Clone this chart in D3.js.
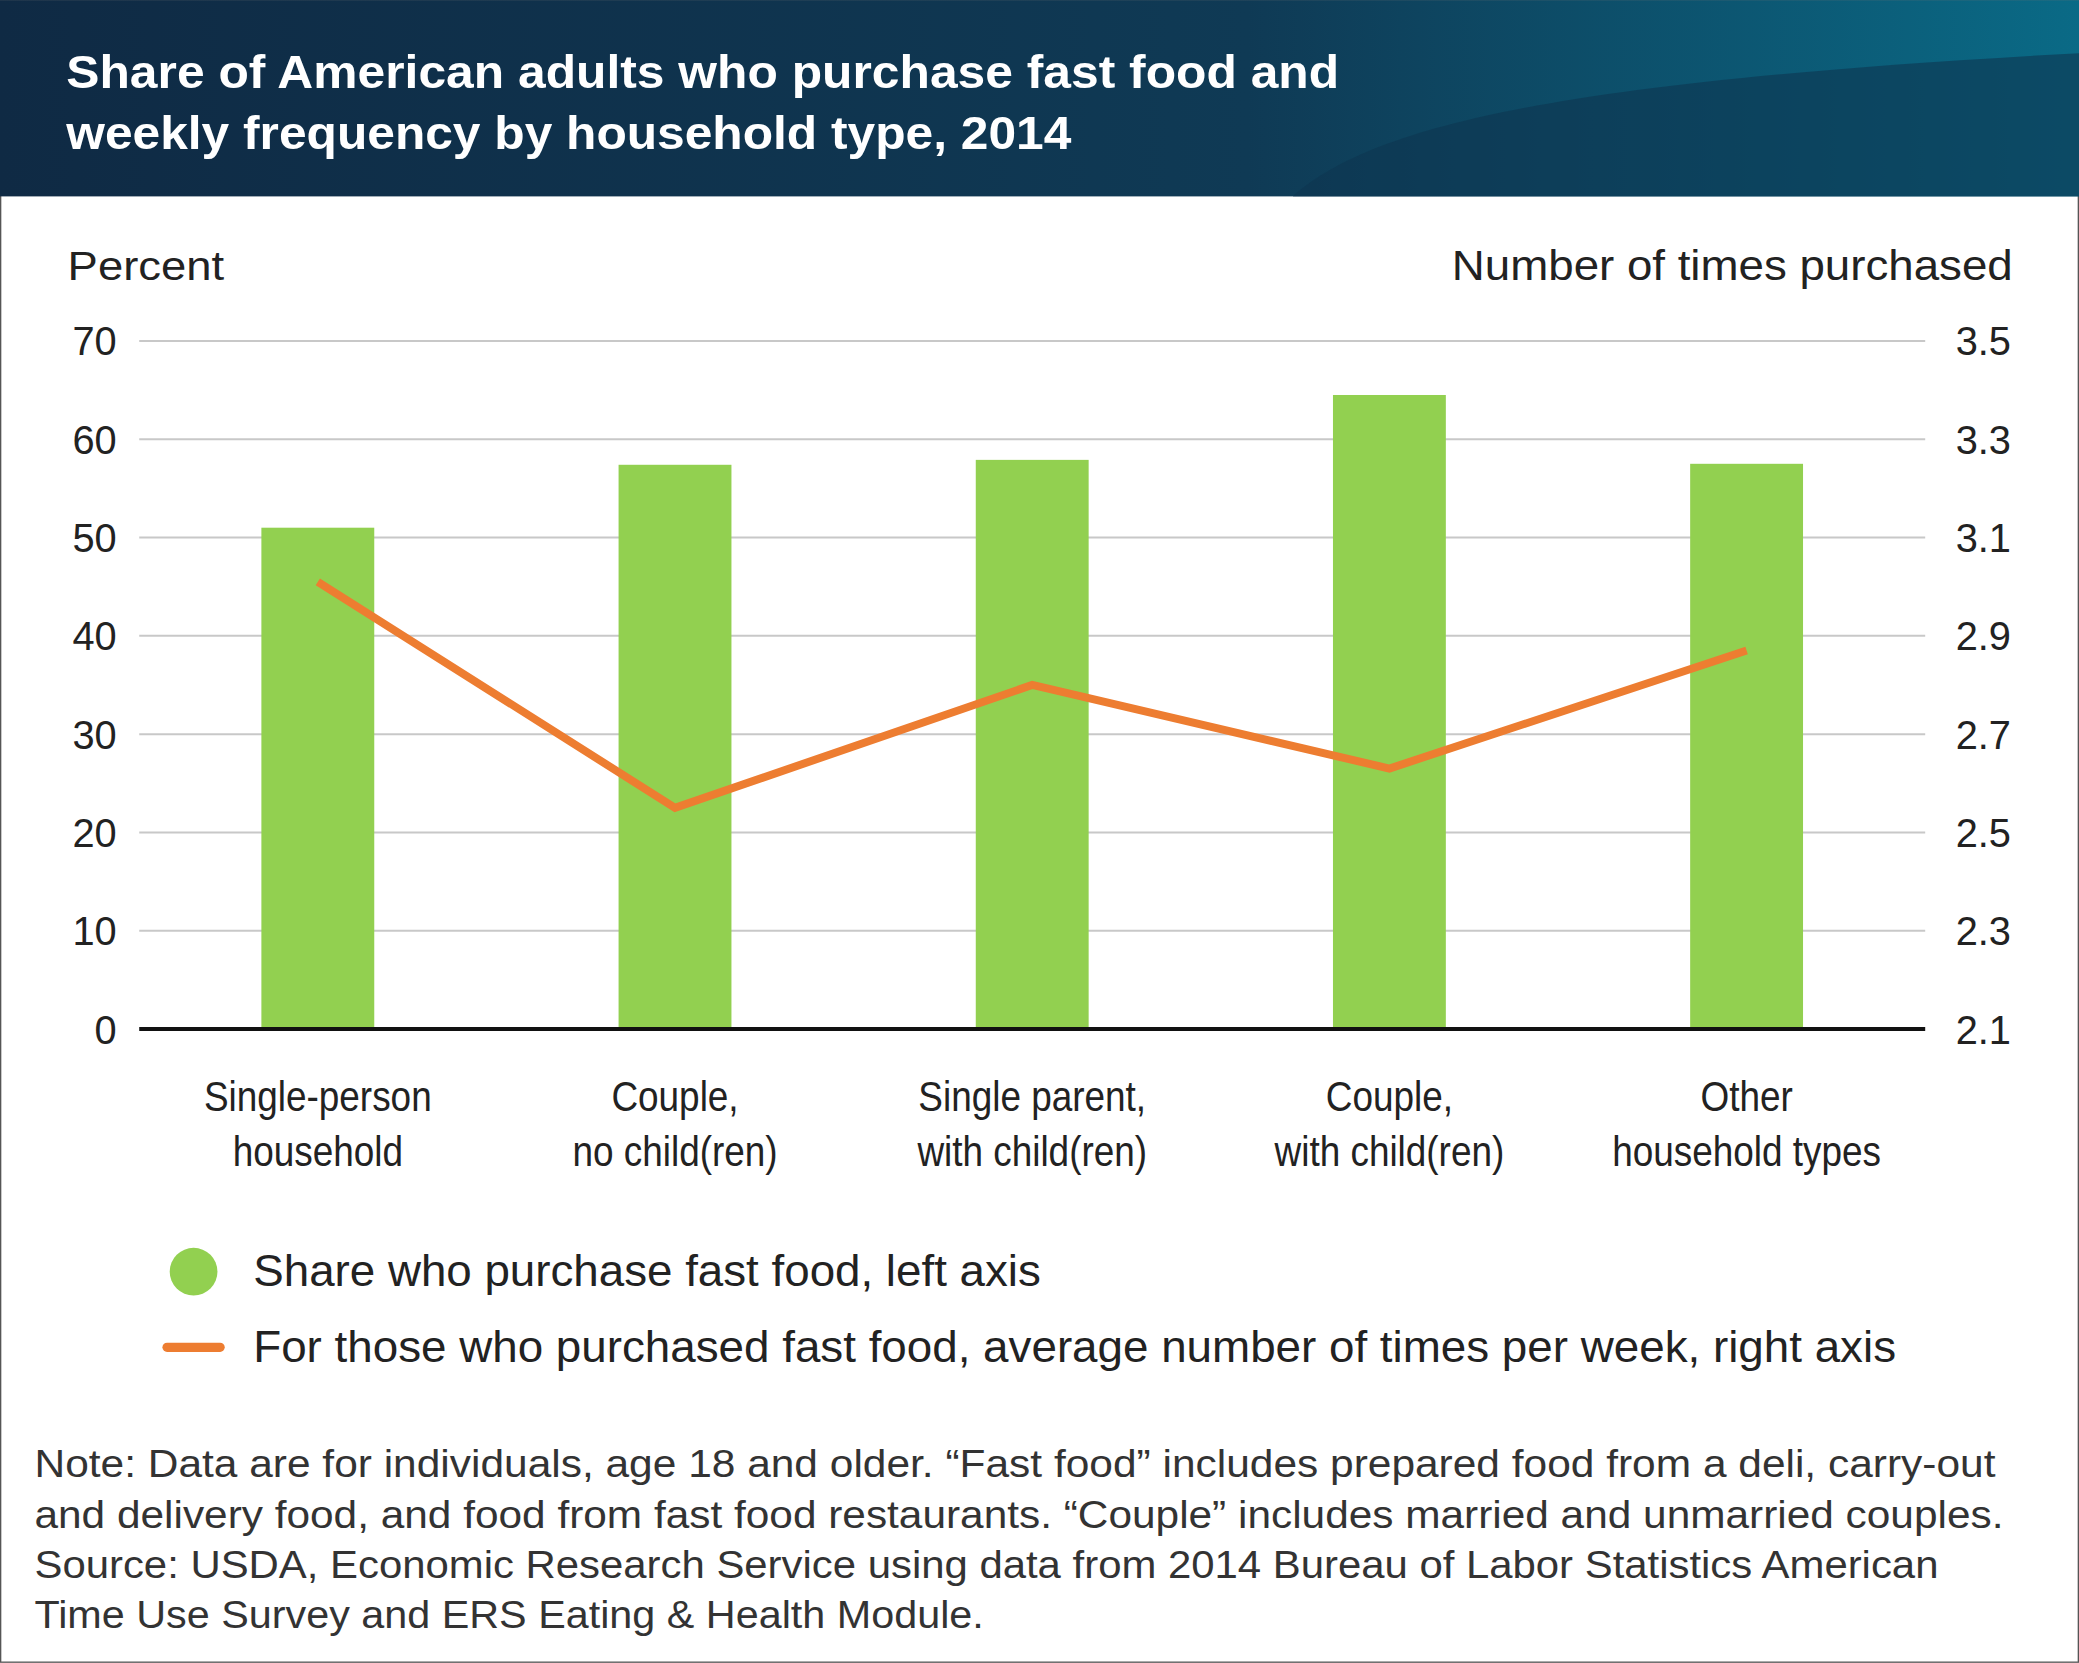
<!DOCTYPE html>
<html><head><meta charset="utf-8">
<script src="https://cdn.jsdelivr.net/npm/d3@7"></script>
<style>body{margin:0;background:#fff}svg{display:block}</style>
</head><body>
<script>
const categories = [["Single-person","household"],["Couple,","no child(ren)"],["Single parent,","with child(ren)"],["Couple,","with child(ren)"],["Other","household types"]];
const shareValues = [51.0, 57.4, 57.9, 64.5, 57.5];
const freqValues = [3.01, 2.55, 2.80, 2.63, 2.87];
const leftTicks = [0,10,20,30,40,50,60,70];
const rightTicks = [2.1,2.3,2.5,2.7,2.9,3.1,3.3,3.5];
const title = ["Share of American adults who purchase fast food and","weekly frequency by household type, 2014"];
const legendLabels = ["Share who purchase fast food, left axis","For those who purchased fast food, average number of times per week, right axis"];
const notes = ["Note: Data are for individuals, age 18 and older. \u201cFast food\u201d includes prepared food from a deli, carry-out","and delivery food, and food from fast food restaurants. \u201cCouple\u201d includes married and unmarried couples.","Source: USDA, Economic Research Service using data from 2014 Bureau of Labor Statistics American","Time Use Survey and ERS Eating & Health Module."];

const W=1568,H=1254,font="'Liberation Sans',Arial,sans-serif";
const svg=d3.select("body").append("svg").attr("width",2079).attr("height",1663).attr("viewBox",`0 0 ${W} ${H}`);
const defs=svg.append("defs");
const g=defs.append("linearGradient").attr("id","hg");
g.append("stop").attr("offset","0").attr("stop-color","#0f2a44");
g.append("stop").attr("offset","0.6").attr("stop-color","#0f3a55");
g.append("stop").attr("offset","1").attr("stop-color","#0a6a86");
svg.append("rect").attr("x",0.5).attr("y",0.5).attr("width",W-1).attr("height",H-1).attr("fill","#fff").attr("stroke","#555");
svg.append("rect").attr("width",W).attr("height",148).attr("fill","url(#hg)");
svg.append("path").attr("d","M975,148 C1040,90 1200,60 1568,40 L1568,148 Z").attr("fill","#0d3550").attr("opacity",0.6);

function fit(sel,widths){sel.each(function(d,i){const n=this,w=widths[i];const bw=n.getComputedTextLength();if(bw>0)n.setAttribute("textLength",w),n.setAttribute("lengthAdjust","spacingAndGlyphs");});}
svg.selectAll(".t").data(title).join("text").attr("x",50).attr("y",(d,i)=>66+i*46).attr("fill","#fff").attr("font-family",font).attr("font-weight","bold").attr("font-size",35).text(d=>d).call(fit,[960,758]);

const x=d3.scaleBand().domain(d3.range(5)).range([105,1452]).paddingInner(0.684).paddingOuter(0.342);
const yL=d3.scaleLinear().domain([0,70]).range([776,257]);
const yR=d3.scaleLinear().domain([2.1,3.5]).range([776,257]);

svg.append("g").selectAll("line").data(leftTicks.slice(1)).join("line").attr("x1",105).attr("x2",1452).attr("y1",d=>yL(d)).attr("y2",d=>yL(d)).attr("stroke","#c8c8c8").attr("stroke-width",1.5);
svg.append("g").selectAll("text").data(leftTicks).join("text").attr("x",88).attr("y",d=>yL(d)+11).attr("text-anchor","end").attr("font-family",font).attr("font-size",30).attr("fill","#222").text(d=>d);
svg.append("g").selectAll("text").data(rightTicks).join("text").attr("x",1475).attr("y",d=>yR(d)+11).attr("font-family",font).attr("font-size",30).attr("fill","#222").text(d=>d.toFixed(1));
svg.append("text").attr("x",51).attr("y",211).attr("font-family",font).attr("font-size",31).attr("fill","#222").text("Percent").attr("textLength",118).attr("lengthAdjust","spacingAndGlyphs");
svg.append("text").attr("x",1095).attr("y",211).attr("font-family",font).attr("font-size",32).attr("fill","#222").text("Number of times purchased").attr("textLength",423).attr("lengthAdjust","spacingAndGlyphs");

svg.append("g").selectAll("rect").data(shareValues).join("rect").attr("x",(d,i)=>x(i)).attr("width",x.bandwidth()).attr("y",d=>yL(d)).attr("height",d=>yL(0)-yL(d)).attr("fill","#92d050");
svg.append("line").attr("x1",105).attr("x2",1452).attr("y1",776).attr("y2",776).attr("stroke","#111").attr("stroke-width",3);
svg.append("path").datum(freqValues).attr("d",d3.line().x((d,i)=>x(i)+x.bandwidth()/2).y(d=>yR(d))).attr("fill","none").attr("stroke","#ed7d31").attr("stroke-width",6);

const cl=svg.append("g").selectAll("g").data(categories).join("g");
cl.each(function(d,i){const cx=x(i)+x.bandwidth()/2;d3.select(this).attr("transform",`translate(${cx},0) scale(0.87,1)`).selectAll("text").data(d).join("text").attr("x",0).attr("y",(t,j)=>838+j*41).attr("text-anchor","middle").attr("font-family",font).attr("font-size",32).attr("fill","#222").text(t=>t);});

svg.append("circle").attr("cx",146).attr("cy",959).attr("r",18).attr("fill","#92d050");
svg.append("line").attr("x1",126).attr("x2",166).attr("y1",1016).attr("y2",1016).attr("stroke","#ed7d31").attr("stroke-width",7).attr("stroke-linecap","round");
svg.selectAll(".lg").data(legendLabels).join("text").attr("x",191).attr("y",(d,i)=>970+i*57).attr("font-family",font).attr("font-size",33).attr("fill","#222").text(d=>d).call(fit,[594,1239]);
svg.selectAll(".nt").data(notes).join("text").attr("x",26).attr("y",(d,i)=>1114+i*38).attr("font-family",font).attr("font-size",29).attr("fill","#333").text(d=>d).call(fit,[1479,1485,1436,716]);
</script>
</body></html>
